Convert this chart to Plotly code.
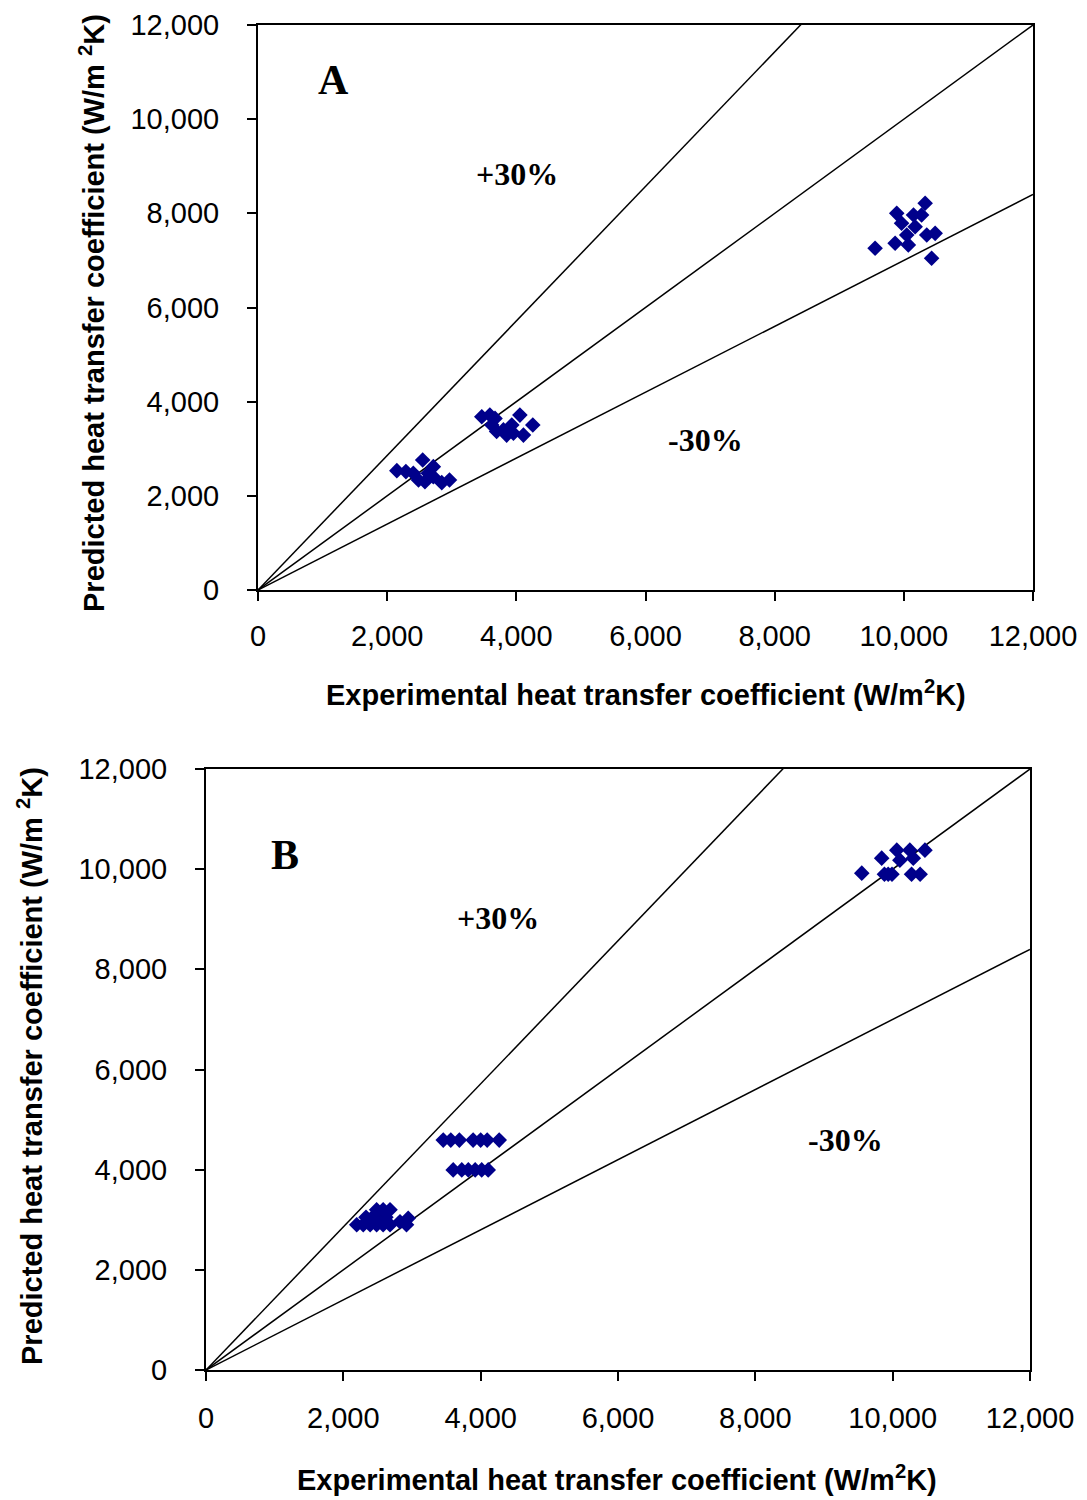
import plotly.graph_objects as go

# ---------------- data ----------------
A_x = [2150, 2290, 2405, 2550, 2485, 2585, 2635, 2715, 2715, 2845, 2965,
       3465, 3590, 3670, 3620, 3695, 3800, 3850, 3930, 3955, 4055, 4110, 4255,
       9555, 9890, 9965, 9865, 10045, 10070, 10150, 10175, 10275, 10330, 10355, 10485, 10430]
A_y = [2535, 2515, 2480, 2760, 2335, 2300, 2480, 2620, 2405, 2280, 2335,
       3680, 3715, 3645, 3505, 3365, 3400, 3290, 3505, 3330, 3715, 3290, 3505,
       7260, 8000, 7790, 7365, 7540, 7330, 7965, 7715, 7965, 8215, 7540, 7575, 7045]

B_x = [2195, 2290, 2390, 2485, 2580, 2680, 2330, 2425, 2520, 2620, 2485, 2580, 2680,
       2825, 2945, 2920,
       3455, 3565, 3690, 3890, 4000, 4095, 4270, 3600, 3725, 3820, 3920, 4015, 4110,
       9550, 9840, 9880, 9935, 9990, 10060, 10105, 10250, 10300, 10275, 10400, 10470]
B_y = [2900, 2900, 2900, 2900, 2900, 2900, 3050, 3050, 3050, 3050, 3200, 3200, 3200,
       2960, 3030, 2900,
       4590, 4590, 4590, 4590, 4590, 4590, 4590, 3995, 3995, 3995, 3995, 3995, 3995,
       9920, 10220, 9900, 9900, 9900, 10380, 10180, 10380, 10220, 9900, 9900, 10380]

line_ratios = [1 / 0.7, 1.0, 0.7]
line_x = [0, 12000]
tick_vals = [0, 2000, 4000, 6000, 8000, 10000, 12000]
tick_text = ["0", "2,000", "4,000", "6,000", "8,000", "10,000", "12,000"]

x_title = "Experimental heat transfer coefficient (W/m<sup>2</sup>K)"
y_title = "Predicted heat transfer coefficient (W/m <sup>2</sup>K)"

W, H = 1087, 1500
OFF = 8  # page body margin


def fx(px):
    return (px - OFF) / W


def fy(py):
    return 1 - (py - OFF) / H


fig = go.Figure()

for xa, ya, xs, ys in [("x", "y", A_x, A_y), ("x2", "y2", B_x, B_y)]:
    for r in line_ratios:
        fig.add_trace(go.Scatter(x=line_x, y=[v * r for v in line_x], mode="lines",
                                 line=dict(color="black", width=1.5),
                                 xaxis=xa, yaxis=ya, showlegend=False, hoverinfo="skip"))
    fig.add_trace(go.Scatter(x=xs, y=ys, mode="markers",
                             marker=dict(symbol="diamond", size=12, color="#00008B",
                                         line=dict(width=0)),
                             xaxis=xa, yaxis=ya, showlegend=False, cliponaxis=False))

tickfont = dict(family="Liberation Sans, Arial", size=29, color="black")
axis_common = dict(range=[0, 12000], tickvals=tick_vals, ticktext=tick_text,
                   showgrid=False, zeroline=False, showline=True, linecolor="black",
                   linewidth=2, mirror=True, ticks="outside", ticklen=9, tickwidth=2,
                   tickcolor="black", tickfont=tickfont, automargin=False)

fig.update_layout(
    template="none",
    width=W, height=H,
    margin=dict(l=0, r=0, t=0, b=0, pad=0),
    paper_bgcolor="white", plot_bgcolor="white",
    xaxis=dict(domain=[fx(258), fx(1033)], anchor="y", ticklabelstandoff=10, **axis_common),
    yaxis=dict(domain=[fy(590), fy(25)], anchor="x", ticklabelstandoff=22, **axis_common),
    xaxis2=dict(domain=[fx(206), fx(1030)], anchor="y2", ticklabelstandoff=12, **axis_common),
    yaxis2=dict(domain=[fy(1370), fy(769)], anchor="x2", ticklabelstandoff=22, **axis_common),
)

title_font = dict(family="Liberation Sans, Arial", size=29, color="black", weight="bold")
label_font = dict(family="Liberation Serif, Times New Roman", size=42, color="black", weight="bold")
pct_font = dict(family="Liberation Serif, Times New Roman", size=32, color="black", weight="bold")


def ann(text, px, py, font, angle=0):
    fig.add_annotation(text=text, x=fx(px), y=fy(py), xref="paper", yref="paper",
                       xanchor="center", yanchor="middle", showarrow=False,
                       font=font, textangle=angle)


# panel A
ann(x_title, 646, 693, title_font)
ann(y_title, 92, 313, title_font, -90)
ann("A", 333, 80, label_font)
ann("+30%", 517, 174, pct_font)
ann("-30%", 705, 440, pct_font)
# panel B
ann(x_title, 617, 1478, title_font)
ann(y_title, 30, 1066, title_font, -90)
ann("B", 285, 855, label_font)
ann("+30%", 498, 918, pct_font)
ann("-30%", 845, 1140, pct_font)

fig.write_html("out.html")
